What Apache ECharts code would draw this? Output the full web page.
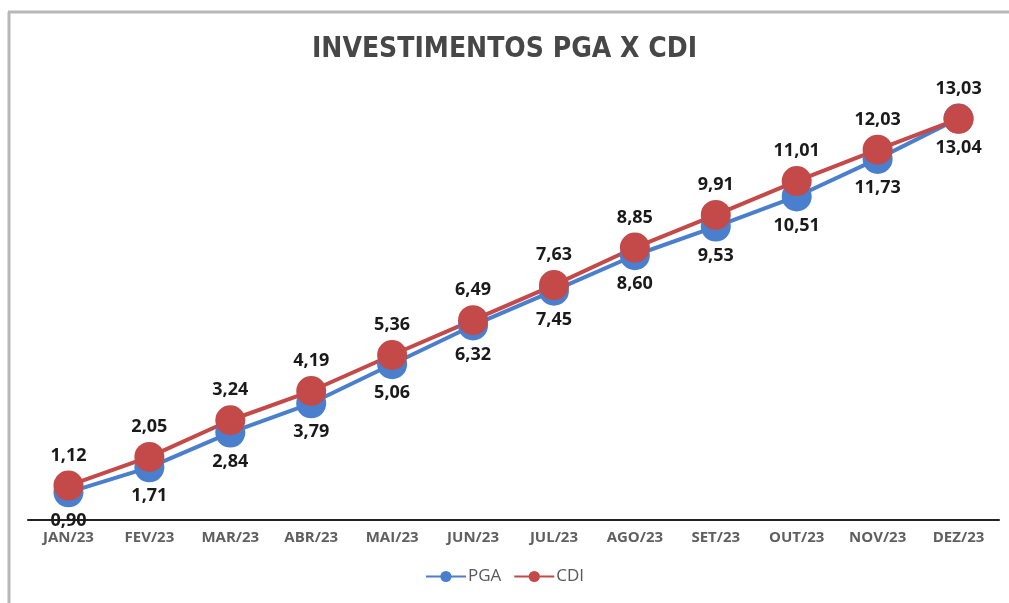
<!DOCTYPE html>
<html><head><meta charset="utf-8">
<script src="https://cdn.jsdelivr.net/npm/echarts@6/dist/echarts.min.js"></script>
<style>html,body{margin:0;padding:0;background:#fff}#c{width:1009px;height:603px}</style>
</head><body><div id="c"></div>
<script>
const categories = ['JAN/23','FEV/23','MAR/23','ABR/23','MAI/23','JUN/23','JUL/23','AGO/23','SET/23','OUT/23','NOV/23','DEZ/23'];
const pga = [0.90,1.71,2.84,3.79,5.06,6.32,7.45,8.60,9.53,10.51,11.73,13.04];
const cdi = [1.12,2.05,3.24,4.19,5.36,6.49,7.63,8.85,9.91,11.01,12.03,13.03];
const FONT = '"Open Sans",sans-serif';
const TFONT = '"DejaVu Sans Condensed","Open Sans",sans-serif';
const fmt = p => p.value.toFixed(2).replace('.', ',');
const chart = echarts.init(document.getElementById('c'));
chart.setOption({
  animation:false,
  title:{text:'INVESTIMENTOS PGA X CDI',left:'center',top:31,
    textStyle:{fontFamily:TFONT,fontSize:28,fontWeight:'bold',color:'#474747'}},
  graphic:[
    {type:'line',shape:{x1:8,y1:12,x2:1009,y2:12},style:{stroke:'#b8b8b8',lineWidth:3}},
    {type:'line',shape:{x1:9,y1:12,x2:9,y2:603},style:{stroke:'#b8b8b8',lineWidth:3}}
  ],
  legend:{bottom:13,left:'center',itemWidth:40,itemHeight:14,itemGap:12,
    textStyle:{fontFamily:FONT,fontSize:17,color:'#595959',padding:[0,0,0,-3]},data:['PGA','CDI']},
  grid:{left:28,right:10,top:89,bottom:83},
  xAxis:{type:'category',data:categories,boundaryGap:true,
    axisLine:{lineStyle:{color:'#222',width:2}},axisTick:{show:false},
    axisLabel:{fontFamily:FONT,fontSize:15,fontWeight:'bold',color:'#5f5f5f',margin:10}},
  yAxis:{type:'value',min:0,max:14,show:false,splitLine:{show:false}},
  series:[
    {name:'PGA',type:'line',data:pga,symbol:'circle',symbolSize:30,
      itemStyle:{color:'#4a7fcd'},lineStyle:{width:4,color:'#4a7fcd'},
      label:{show:true,position:'bottom',distance:5,formatter:fmt,
        fontFamily:FONT,fontSize:18,fontWeight:'bold',color:'#1a1a1a'}},
    {name:'CDI',type:'line',data:cdi,symbol:'circle',symbolSize:30,
      itemStyle:{color:'#c44a4a'},lineStyle:{width:4,color:'#c44a4a'},
      label:{show:true,position:'top',distance:6,formatter:fmt,
        fontFamily:FONT,fontSize:18,fontWeight:'bold',color:'#1a1a1a'}}
  ]
});
</script></body></html>
